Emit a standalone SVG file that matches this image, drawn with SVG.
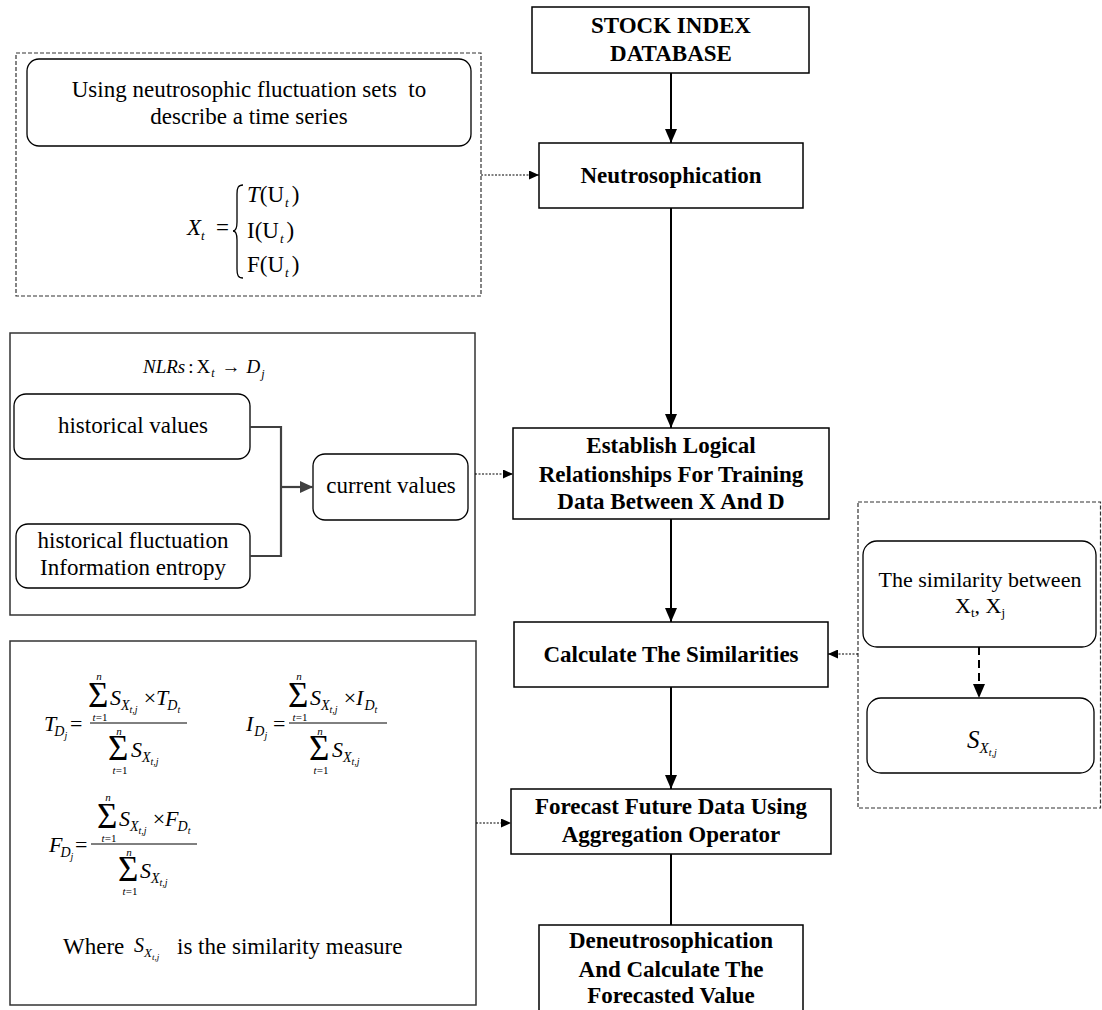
<svg xmlns="http://www.w3.org/2000/svg" width="1102" height="1010" viewBox="0 0 1102 1010" font-family="'Liberation Serif','Times New Roman',serif">
<defs>
<style>
text{font-family:"Liberation Serif","Times New Roman",serif;fill:#000}
.b{font-weight:bold;font-size:23px;text-anchor:middle}
.r{font-size:23px}
.c{text-anchor:middle}
.i{font-style:italic}
.n{font-style:normal}
.box{fill:#fff;stroke:#000;stroke-width:1.5}
.rbox{fill:#fff;stroke:#000;stroke-width:1.3}
.panel{fill:none;stroke:#333;stroke-width:1.5}
.dpanel{fill:none;stroke:#333;stroke-width:1.2;stroke-dasharray:4 2}
.main{stroke:#000;stroke-width:2;fill:none}
.dot{stroke:#000;stroke-width:1.2;fill:none;stroke-dasharray:2 1.5}
.dash{stroke:#000;stroke-width:2;fill:none;stroke-dasharray:8 5}
.gray{stroke:#404040;stroke-width:2.2;fill:none}
.bar{stroke:#000;stroke-width:1}
.sig{font-size:35px}
.lim{font-size:11px;text-anchor:middle}
.m{font-size:22px}
.s1{font-size:14px;font-style:italic}
.s2{font-size:10px;font-style:italic}
</style>
<marker id="ah" markerWidth="14" markerHeight="12" refX="14" refY="6" orient="auto" markerUnits="userSpaceOnUse"><path d="M0,0 L14,6 L0,12 Z" fill="#000"/></marker>
<marker id="ahs" markerWidth="10" markerHeight="9" refX="10" refY="4.5" orient="auto" markerUnits="userSpaceOnUse"><path d="M0,0 L10,4.5 L0,9 Z" fill="#000"/></marker>
<marker id="ahg" markerWidth="13" markerHeight="12" refX="13" refY="6" orient="auto" markerUnits="userSpaceOnUse"><path d="M0,0 L13,6 L0,12 Z" fill="#404040"/></marker>
</defs>
<rect width="1102" height="1010" fill="#fff"/>

<g id="panel-neutro">
<rect class="dpanel" x="16" y="53" width="465" height="243"/>
<rect class="rbox" x="27" y="59" width="444" height="87" rx="12"/>
<text class="r c" x="249" y="97">Using neutrosophic fluctuation sets&#160; to</text>
<text class="r c" x="249" y="124">describe a time series</text>
<text class="i" x="187" y="235" font-size="23">X<tspan font-size="13" dy="5">t</tspan></text>
<text x="216" y="235" font-size="23">=</text>
<path d="M243,185 C238,185 237,188 237,194 L237,222 C237,228 236,231 233,231 C236,231 237,234 237,240 L237,269 C237,275 238,278 243,278" fill="none" stroke="#000" stroke-width="1.3"/>
<text x="247" y="202" font-size="23"><tspan class="i">T</tspan>(U<tspan font-size="13" class="i" dx="1" dy="5">t</tspan><tspan dx="3" dy="-5">)</tspan></text>
<text x="247" y="238" font-size="23">I(U<tspan font-size="13" class="i" dx="1" dy="5">t</tspan><tspan dx="3" dy="-5">)</tspan></text>
<text x="247" y="272" font-size="23">F(U<tspan font-size="13" class="i" dx="1" dy="5">t</tspan><tspan dx="3" dy="-5">)</tspan></text>
</g>

<g id="panel-nlrs">
<rect class="panel" x="10" y="333" width="465" height="282"/>
<text x="143" y="373" font-size="19"><tspan class="i">NLRs</tspan><tspan dx="3">:</tspan><tspan dx="3">X</tspan><tspan font-size="12" class="i" dx="1" dy="4">t</tspan><tspan dx="7" dy="-4">→</tspan><tspan class="i" dx="6">D</tspan><tspan font-size="12" class="i" dx="1" dy="5">j</tspan></text>
<g id="hist-values">
<rect class="rbox" x="14" y="394" width="236" height="65" rx="12"/>
<text class="r c" x="133" y="433">historical values</text>
</g>
<g id="hist-fluct">
<rect class="rbox" x="16" y="524" width="234" height="64" rx="12"/>
<text class="r c" x="133" y="548">historical fluctuation</text>
<text class="r c" x="133" y="575">Information entropy</text>
</g>
<g id="current-values">
<rect class="rbox" x="313" y="454" width="155" height="66" rx="12"/>
<text class="r c" x="391" y="493">current values</text>
</g>
</g>

<g id="panel-agg">
<rect class="panel" x="10" y="641" width="466" height="364"/>
<!-- T formula -->
<text class="m i" x="44" y="731">T<tspan class="s1" dx="-2" dy="5">D</tspan><tspan class="s2" dy="3">j</tspan></text>
<text class="m" x="70" y="731">=</text>
<line class="bar" x1="90" y1="723" x2="187" y2="723"/>
<text class="sig" x="88" y="707">Σ</text>
<text class="lim i" x="99" y="680">n</text>
<text class="lim" x="100" y="721"><tspan class="i">t</tspan>=1</text>
<text class="m i" x="110" y="705">S<tspan class="s1" dy="5">X</tspan><tspan class="s2" dy="3">t,j</tspan><tspan class="n" dx="6" dy="-8">×</tspan>T<tspan class="s1" dx="-1" dy="5">D</tspan><tspan class="s2" dy="3">t</tspan></text>
<text class="sig" x="108" y="760">Σ</text>
<text class="lim i" x="119" y="735">n</text>
<text class="lim" x="120" y="774"><tspan class="i">t</tspan>=1</text>
<text class="m i" x="131" y="757">S<tspan class="s1" dy="5">X</tspan><tspan class="s2" dy="3">t,j</tspan></text>
<!-- I formula -->
<text class="m i" x="246" y="731">I<tspan class="s1" dx="1" dy="5">D</tspan><tspan class="s2" dy="3">j</tspan></text>
<text class="m" x="273" y="731">=</text>
<line class="bar" x1="289" y1="723" x2="387" y2="723"/>
<text class="sig" x="288" y="707">Σ</text>
<text class="lim i" x="299" y="680">n</text>
<text class="lim" x="300" y="721"><tspan class="i">t</tspan>=1</text>
<text class="m i" x="310" y="705">S<tspan class="s1" dy="5">X</tspan><tspan class="s2" dy="3">t,j</tspan><tspan class="n" dx="6" dy="-8">×</tspan>I<tspan class="s1" dx="1" dy="5">D</tspan><tspan class="s2" dy="3">t</tspan></text>
<text class="sig" x="309" y="760">Σ</text>
<text class="lim i" x="320" y="735">n</text>
<text class="lim" x="321" y="774"><tspan class="i">t</tspan>=1</text>
<text class="m i" x="332" y="757">S<tspan class="s1" dy="5">X</tspan><tspan class="s2" dy="3">t,j</tspan></text>
<!-- F formula -->
<text class="m i" x="49" y="852">F<tspan class="s1" dx="-2" dy="5">D</tspan><tspan class="s2" dy="3">j</tspan></text>
<text class="m" x="75" y="852">=</text>
<line class="bar" x1="91" y1="844" x2="197" y2="844"/>
<text class="sig" x="97" y="828">Σ</text>
<text class="lim i" x="108" y="801">n</text>
<text class="lim" x="109" y="842"><tspan class="i">t</tspan>=1</text>
<text class="m i" x="119" y="826">S<tspan class="s1" dy="5">X</tspan><tspan class="s2" dy="3">t,j</tspan><tspan class="n" dx="6" dy="-8">×</tspan>F<tspan class="s1" dx="-1" dy="5">D</tspan><tspan class="s2" dy="3">t</tspan></text>
<text class="sig" x="118" y="881">Σ</text>
<text class="lim i" x="129" y="856">n</text>
<text class="lim" x="130" y="895"><tspan class="i">t</tspan>=1</text>
<text class="m i" x="140" y="878">S<tspan class="s1" dy="5">X</tspan><tspan class="s2" dy="3">t,j</tspan></text>
<!-- where -->
<text class="r" x="63" y="954">Where</text>
<text class="i" x="134" y="952" font-size="20">S<tspan font-size="13" dy="5">X</tspan><tspan font-size="9" dy="3">t,j</tspan></text>
<text class="r" x="177" y="954">is the similarity measure</text>
</g>

<g id="panel-sim">
<rect class="dpanel" x="858" y="502" width="242.5" height="306"/>
<g id="sim-between">
<rect class="rbox" x="863" y="541" width="233" height="106" rx="14"/>
<text class="c" x="980" y="587" font-size="22">The similarity between</text>
<text class="c" x="980" y="613" font-size="22">X<tspan font-size="13" dy="4">t</tspan><tspan dy="-4">, X</tspan><tspan font-size="13" dy="4">j</tspan></text>
</g>
<g id="sim-s">
<rect class="rbox" x="867" y="698" width="227" height="75" rx="14"/>
<text class="i" x="967" y="748" font-size="25">S<tspan font-size="15" dy="5">X</tspan><tspan font-size="10" dy="3">t,j</tspan></text>
</g>
</g>

<g id="n-stock">
<rect class="box" x="532" y="7" width="277" height="66"/>
<text class="b" x="671" y="33">STOCK INDEX</text>
<text class="b" x="671" y="61">DATABASE</text>
</g>
<g id="n-neutro">
<rect class="box" x="539" y="143" width="264" height="65"/>
<text class="b" x="671" y="183">Neutrosophication</text>
</g>
<g id="n-establish">
<rect class="box" x="513" y="428" width="316" height="91"/>
<text class="b" x="671" y="453">Establish Logical</text>
<text class="b" x="671" y="482">Relationships For Training</text>
<text class="b" x="671" y="509">Data Between X And D</text>
</g>
<g id="n-calc">
<rect class="box" x="514" y="622" width="314" height="65"/>
<text class="b" x="671" y="662">Calculate The Similarities</text>
</g>
<g id="n-forecast">
<rect class="box" x="511" y="789" width="320" height="65"/>
<text class="b" x="671" y="814">Forecast Future Data Using</text>
<text class="b" x="671" y="842">Aggregation Operator</text>
</g>
<g id="n-deneutro">
<rect class="box" x="539" y="925" width="264" height="100"/>
<text class="b" x="671" y="948">Deneutrosophication</text>
<text class="b" x="671" y="977">And Calculate The</text>
<text class="b" x="671" y="1003">Forecasted Value</text>
</g>

<g id="connectors">
<line class="main" x1="671" y1="73" x2="671" y2="143" marker-end="url(#ah)"/>
<line class="main" x1="671" y1="208" x2="671" y2="428" marker-end="url(#ah)"/>
<line class="main" x1="671" y1="519" x2="671" y2="622" marker-end="url(#ah)"/>
<line class="main" x1="671" y1="687" x2="671" y2="789" marker-end="url(#ah)"/>
<line class="main" x1="671" y1="854" x2="671" y2="925"/>
<line class="dot" x1="481" y1="175" x2="539" y2="175" marker-end="url(#ahs)"/>
<line class="dot" x1="475" y1="474" x2="513" y2="474" marker-end="url(#ahs)"/>
<line class="dot" x1="476" y1="823" x2="511" y2="823" marker-end="url(#ahs)"/>
<line class="dot" x1="858" y1="654" x2="828" y2="654" marker-end="url(#ahs)"/>
<line class="dash" x1="979" y1="647" x2="979" y2="698" marker-end="url(#ah)"/>
<path class="gray" d="M250,427 H281 V556 H250"/>
<line class="gray" x1="281" y1="487" x2="313" y2="487" marker-end="url(#ahg)"/>
</g>
</svg>
